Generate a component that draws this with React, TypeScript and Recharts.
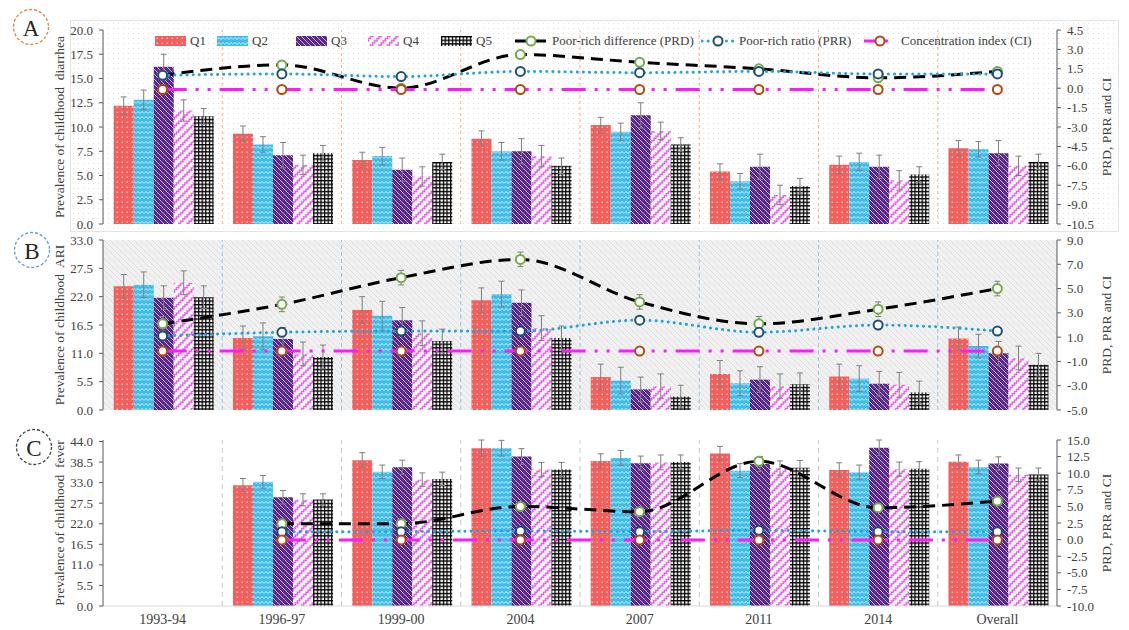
import React from 'react';
import { ComposedChart, Bar, Line, XAxis, YAxis, CartesianGrid, ErrorBar, ReferenceLine, Legend } from 'recharts';

const FONT = '"Liberation Serif", "Times New Roman", Times, serif';
const INK = '#404040';
const AXIS = '#595959';

const categories = ['1993-94', '1996-97', '1999-00', '2004', '2007', '2011', '2014', 'Overall'];
const quintiles = ['Q1', 'Q2', 'Q3', 'Q4', 'Q5'];
const indexNames = ['Poor-rich difference (PRD)', 'Poor-rich ratio (PRR)', 'Concentration index (CI)'];

// A: childhood diarrhea, one row per quintile
const diarrheaBars = [
    [12.2, 9.3, 6.6, 8.8, 10.2, 5.4, 6.1, 7.8],
    [12.8, 8.2, 7.0, 7.5, 9.5, 4.4, 6.4, 7.7],
    [16.2, 7.1, 5.6, 7.5, 11.2, 5.9, 5.9, 7.3],
    [11.7, 6.1, 4.9, 7.0, 9.6, 3.0, 4.5, 6.0],
    [11.1, 7.3, 6.4, 6.0, 8.2, 3.9, 5.1, 6.4],
];
const diarrheaErr = [
    [0.9, 0.8, 0.8, 0.8, 0.8, 0.8, 0.9, 0.8],
    [1.0, 0.8, 0.9, 0.9, 0.9, 0.8, 0.9, 0.8],
    [1.3, 1.3, 1.2, 1.3, 1.3, 1.3, 1.2, 1.3],
    [1.1, 1.0, 1.0, 1.1, 0.9, 1.0, 1.0, 1.0],
    [0.8, 0.8, 0.8, 0.8, 0.7, 0.8, 0.8, 0.8],
];
const diarrheaPRD = [1.0, 1.8, 0.0, 2.6, 2.0, 1.5, 0.8, 1.3];
const diarrheaPRR = [1.0, 1.1, 0.9, 1.3, 1.2, 1.3, 1.1, 1.1];
const diarrheaCI = [-0.1, -0.1, -0.1, -0.1, -0.1, -0.1, -0.1, -0.1];

// B: childhood ARI
const ariBars = [
    [24.0, 14.0, 19.4, 21.3, 6.4, 7.0, 6.5, 13.9],
    [24.3, 14.3, 18.3, 22.5, 5.7, 5.2, 6.1, 12.4],
    [21.8, 13.8, 17.4, 20.8, 4.0, 5.9, 5.1, 11.0],
    [24.7, 10.9, 14.9, 15.9, 4.6, 4.6, 4.9, 10.1],
    [21.9, 10.3, 13.4, 14.0, 2.6, 5.0, 3.4, 8.8],
];
const ariErr = [
    [2.3, 2.3, 2.6, 2.4, 2.5, 2.6, 2.4, 2.2],
    [2.5, 2.6, 2.8, 2.5, 2.6, 2.4, 2.5, 2.3],
    [2.3, 2.2, 2.5, 2.5, 2.4, 2.5, 2.4, 2.3],
    [2.3, 2.3, 2.4, 2.4, 2.4, 2.4, 2.4, 2.3],
    [2.2, 2.3, 2.3, 2.3, 2.2, 2.2, 2.2, 2.2],
];
const ariPRD = [2.1, 3.7, 5.9, 7.4, 3.9, 2.1, 3.3, 5.0];
const ariPRDErr = [0.6, 0.6, 0.6, 0.6, 0.6, 0.6, 0.6, 0.6];
const ariPRR = [1.1, 1.4, 1.5, 1.5, 2.4, 1.4, 2.0, 1.5];
const ariCI = [-0.15, -0.15, -0.15, -0.15, -0.15, -0.15, -0.15, -0.15];

// C: childhood fever (no 1993-94 survey data)
const feverBars = [
    [null, 32.3, 39.0, 42.2, 38.8, 40.8, 36.4, 38.6],
    [null, 33.2, 35.9, 42.2, 39.6, 36.2, 35.8, 37.2],
    [null, 29.1, 37.1, 40.0, 38.2, 38.0, 42.3, 38.1],
    [null, 28.4, 33.8, 36.5, 38.4, 36.9, 36.6, 35.1],
    [null, 28.5, 34.0, 36.5, 38.5, 37.0, 36.7, 35.2],
];
const feverErr = [
    [null, 1.8, 2.0, 2.2, 1.9, 1.9, 1.9, 1.8],
    [null, 1.7, 1.8, 2.1, 2.0, 1.9, 1.9, 1.8],
    [null, 1.8, 1.9, 2.1, 1.9, 2.0, 2.1, 1.8],
    [null, 1.6, 1.8, 1.9, 2.0, 1.9, 1.9, 1.8],
    [null, 1.5, 1.8, 1.9, 1.9, 1.9, 1.9, 1.7],
];
const feverPRD = [null, 2.4, 2.4, 5.0, 4.2, 11.8, 4.8, 5.8];
const feverPRR = [null, 1.2, 1.2, 1.3, 1.2, 1.4, 1.2, 1.2];
const feverCI = [null, -0.05, -0.05, -0.05, -0.05, -0.05, -0.05, -0.05];

const diarrheaLeftTicks = [0, 2.5, 5, 7.5, 10, 12.5, 15, 17.5, 20];
const diarrheaRightTicks = [-10.5, -9, -7.5, -6, -4.5, -3, -1.5, 0, 1.5, 3, 4.5];
const ariLeftTicks = [0, 5.5, 11, 16.5, 22, 27.5, 33];
const ariRightTicks = [-5, -3, -1, 1, 3, 5, 7, 9];
const feverLeftTicks = [0, 5.5, 11, 16.5, 22, 27.5, 33, 38.5, 44];
const feverRightTicks = [-10, -7.5, -5, -2.5, 0, 2.5, 5, 7.5, 10, 12.5, 15];

const buildRows = (bars, errs, prd, prr, ci, prdErr?) =>
    categories.map((cat, i) => {
        const row: any = { cat, idx: i + 0.5, PRD: prd[i], PRR: prr[i], CI: ci[i] };
        quintiles.forEach((q, k) => {
            row[q] = bars[k][i];
            row[q + 'e'] = bars[k][i] == null ? null : errs[k][i];
        });
        if (prdErr) row.PRDe = prd[i] == null ? null : prdErr[i];
        return row;
    });

const barFill = { Q1: 'url(#pQ1)', Q2: 'url(#pQ2)', Q3: 'url(#pQ3)', Q4: 'url(#pQ4)', Q5: 'url(#pQ5)' };

const lineStyle = {
    PRD: { stroke: '#000', dash: '12 7', cap: 'butt', marker: '#70ad47' },
    PRR: { stroke: '#1ea5df', dash: '0.1 6', cap: 'round', marker: '#1f4e79' },
    CI: { stroke: '#ff19ff', dash: '24 9 3 9 3 9', cap: 'butt', marker: '#b34a12' },
};
const lineKeys = ['PRD', 'PRR', 'CI'];

const Patterns = () => (
    <svg width={0} height={0} style={{ position: 'absolute' }}>
        <defs>
            <pattern id="pQ1" width={5} height={5} patternUnits="userSpaceOnUse">
                <rect width={5} height={5} fill="#f2605e" />
                <rect x={1.6} y={1.6} width={1.3} height={1.3} fill="#ffffff" fillOpacity={0.75} />
            </pattern>
            <pattern id="pQ2" width={8} height={5} patternUnits="userSpaceOnUse">
                <rect width={8} height={5} fill="#3fbde8" />
                <path d="M0 3.6 L2 1.4 L4 3.6 L6 1.4 L8 3.6" stroke="#ffffff" strokeWidth={0.9} strokeOpacity={0.8} fill="none" />
            </pattern>
            <pattern id="pQ3" width={5} height={5} patternUnits="userSpaceOnUse">
                <rect width={5} height={5} fill="#5a2a86" />
                <path d="M0 0 L5 5 M-1 4 L1 6 M4 -1 L6 1" stroke="#cbbbe0" strokeWidth={0.9} />
            </pattern>
            <pattern id="pQ4" width={6} height={6} patternUnits="userSpaceOnUse" patternTransform="rotate(-45)">
                <rect width={6} height={6} fill="#ffffff" />
                <path d="M0 4 L1.5 2 L3 4 L4.5 2 L6 4" stroke="#e63de6" strokeWidth={1.2} fill="none" />
            </pattern>
            <pattern id="pQ5" width={3.6} height={3.6} patternUnits="userSpaceOnUse">
                <rect width={3.6} height={3.6} fill="#ffffff" />
                <path d="M0 0.6 H3.6 M0.6 0 V3.6" stroke="#000000" strokeWidth={1.3} />
            </pattern>
            <pattern id="hatchB" width={6} height={6} patternUnits="userSpaceOnUse">
                <rect width={6} height={6} fill="#f1f1f1" />
                <path d="M0 0 L6 6 M-1 5 L1 7 M5 -1 L7 1" stroke="#dcdcdc" strokeWidth={0.8} />
            </pattern>
        </defs>
    </svg>
);

const LegendRow = () => {
    const barLefts = [155, 217, 296, 368, 441];
    const lineLefts = [514, 701, 863];
    const item = { position: 'absolute' as const, top: 0, height: 16, display: 'flex', alignItems: 'center' };
    return (
        <div style={{ position: 'relative', width: 1129, height: 16, fontFamily: FONT, fontSize: 13, color: INK }}>
            {quintiles.map((q, i) => (
                <div key={q} style={{ ...item, left: barLefts[i] }}>
                    <svg width={31} height={10}><rect width={31} height={10} fill={barFill[q]} /></svg>
                    <span style={{ marginLeft: 4 }}>{q}</span>
                </div>
            ))}
            {lineKeys.map((k, i) => {
                const s = lineStyle[k];
                return (
                    <div key={k} style={{ ...item, left: lineLefts[i] }}>
                        <svg width={34} height={12}>
                            <line x1={1} y1={6} x2={33} y2={6} stroke={s.stroke} strokeWidth={3} strokeDasharray={s.dash} strokeLinecap={s.cap} />
                            <circle cx={17} cy={6} r={4.5} fill="#fff" stroke={s.marker} strokeWidth={2} />
                        </svg>
                        <span style={{ marginLeft: 4 }}>{indexNames[i]}</span>
                    </div>
                );
            })}
        </div>
    );
};

const PanelTag = ({ letter, color, x, y }) => (
    <svg style={{ position: 'absolute', left: x - 20, top: y - 20 }} width={40} height={40}>
        <circle cx={20} cy={20} r={17.5} fill="#fff" stroke={color} strokeWidth={1.3} strokeDasharray="3 2" />
        <text x={20} y={21} textAnchor="middle" dominantBaseline="central" fontSize={23} fontFamily={FONT} fill="#262626">{letter}</text>
    </svg>
);

const VTitle = ({ text, x, y }) => (
    <div style={{
        position: 'absolute', left: x, top: y, transform: 'translate(-50%, -50%) rotate(-90deg)',
        whiteSpace: 'pre', fontFamily: FONT, fontSize: 13.5, color: INK,
    }}>{text}</div>
);

const fmt = (v: number) => v.toFixed(1);
const tickStyle = { fontSize: 13, fill: INK, fontFamily: FONT };

const Panel = ({ cfg }) => {
    const boundaries = categories.slice(1).map((_, i) => i + 1);
    const lt = cfg.leftTicks;
    const rt = cfg.rightTicks;
    return (
        <div style={{ position: 'absolute', left: 0, top: cfg.top }}>
            <ComposedChart
                width={1129}
                height={cfg.height}
                data={cfg.rows}
                margin={{ top: cfg.marginTop, right: 0, bottom: cfg.marginBottom, left: 0 }}
                barCategoryGap="9%"
                barGap={0}
            >
                {cfg.gridFill && (
                    <CartesianGrid xAxisId="cat" yAxisId="left" horizontal={false} vertical={false} fill={cfg.gridFill} fillOpacity={1} />
                )}
                <XAxis
                    xAxisId="cat"
                    dataKey="cat"
                    type="category"
                    hide={!cfg.showX}
                    height={24}
                    tickLine={false}
                    axisLine={{ stroke: '#d9d9d9' }}
                    tick={{ ...tickStyle, fontSize: 14 }}
                    interval={0}
                />
                <XAxis xAxisId="sep" dataKey="idx" type="number" domain={[0, categories.length]} hide />
                <YAxis
                    yAxisId="left"
                    width={103}
                    domain={[lt[0], lt[lt.length - 1]]}
                    ticks={lt}
                    interval={0}
                    tickFormatter={fmt}
                    tick={tickStyle}
                    tickSize={4}
                    tickMargin={6}
                    axisLine={{ stroke: AXIS }}
                    tickLine={{ stroke: AXIS }}
                />
                <YAxis
                    yAxisId="right"
                    orientation="right"
                    width={72}
                    domain={[rt[0], rt[rt.length - 1]]}
                    ticks={rt}
                    interval={0}
                    tickFormatter={fmt}
                    tick={tickStyle}
                    tickSize={4}
                    tickMargin={6}
                    axisLine={{ stroke: AXIS }}
                    tickLine={{ stroke: AXIS }}
                />
                {boundaries.map((b) => (
                    <ReferenceLine key={b} xAxisId="sep" yAxisId="left" x={b} stroke={cfg.sepStroke} strokeDasharray={cfg.sepDash} strokeWidth={1} />
                ))}
                {quintiles.map((q) => (
                    <Bar key={q} xAxisId="cat" yAxisId="left" dataKey={q} fill={barFill[q]} isAnimationActive={false}>
                        <ErrorBar dataKey={q + 'e'} width={3} stroke="#7f7f7f" strokeWidth={1} direction="y" isAnimationActive={false} />
                    </Bar>
                ))}
                {lineKeys.map((k) => {
                    const s = lineStyle[k];
                    return (
                        <Line
                            key={k}
                            xAxisId="cat"
                            yAxisId="right"
                            dataKey={k}
                            type="monotone"
                            stroke={s.stroke}
                            strokeWidth={3}
                            strokeDasharray={s.dash}
                            strokeLinecap={s.cap}
                            dot={{ r: 4.5, stroke: s.marker, strokeWidth: 2, fill: '#fff', strokeDasharray: 'none' }}
                            activeDot={false}
                            isAnimationActive={false}
                        >
                            {k === 'PRD' && cfg.prdErr && (
                                <ErrorBar dataKey="PRDe" width={3} stroke="#7f7f7f" strokeWidth={1} direction="y" isAnimationActive={false} />
                            )}
                        </Line>
                    );
                })}
                {cfg.legend && (
                    <Legend
                        layout="horizontal"
                        verticalAlign="middle"
                        align="center"
                        content={<LegendRow />}
                        wrapperStyle={{ left: 0, top: 33, width: 1129, height: 16 }}
                    />
                )}
            </ComposedChart>
        </div>
    );
};

const panels = [
    {
        rows: buildRows(diarrheaBars, diarrheaErr, diarrheaPRD, diarrheaPRR, diarrheaCI),
        top: 0, height: 240, marginTop: 30, marginBottom: 16,
        leftTicks: diarrheaLeftTicks, rightTicks: diarrheaRightTicks,
        sepStroke: '#f4b183', sepDash: '3 3', showX: false, legend: true,
        title: 'Prevalence of childhood  diarrhea', titleY: 127,
    },
    {
        rows: buildRows(ariBars, ariErr, ariPRD, ariPRR, ariCI, ariPRDErr),
        top: 232, height: 192, marginTop: 8, marginBottom: 14,
        leftTicks: ariLeftTicks, rightTicks: ariRightTicks,
        sepStroke: '#9dc3e6', sepDash: '4 3', showX: false, gridFill: 'url(#hatchB)', prdErr: true,
        title: 'Prevalence of childhood  ARI', titleY: 325,
    },
    {
        rows: buildRows(feverBars, feverErr, feverPRD, feverPRR, feverCI),
        top: 420, height: 210, marginTop: 20, marginBottom: 0,
        leftTicks: feverLeftTicks, rightTicks: feverRightTicks,
        sepStroke: '#c8c8c8', sepDash: '5 4', showX: true,
        title: 'Prevalence of childhood  fever', titleY: 523,
    },
];

export default function App() {
    return (
        <div style={{ position: 'absolute', left: 0, top: 0, width: 1129, height: 630, background: '#fff', overflow: 'hidden' }}>
            <Patterns />
            <div
                style={{
                    position: 'absolute', left: 70, top: 20, width: 1047, height: 210,
                    border: '1px solid #e4e4e4',
                    backgroundColor: '#fff',
                    backgroundImage: 'radial-gradient(circle, #dedede 0.7px, transparent 1px)',
                    backgroundSize: '5px 5px',
                }}
            />
            {panels.map((p, i) => <Panel key={i} cfg={p} />)}
            {panels.map((p, i) => (
                <React.Fragment key={'t' + i}>
                    <VTitle text={p.title} x={60} y={p.titleY} />
                    <VTitle text="PRD, PRR and CI" x={1107} y={p.titleY} />
                </React.Fragment>
            ))}
            <PanelTag letter="A" color="#ed7d31" x={31} y={27} />
            <PanelTag letter="B" color="#5b9bd5" x={32} y={250} />
            <PanelTag letter="C" color="#404040" x={34} y={447} />
        </div>
    );
}
